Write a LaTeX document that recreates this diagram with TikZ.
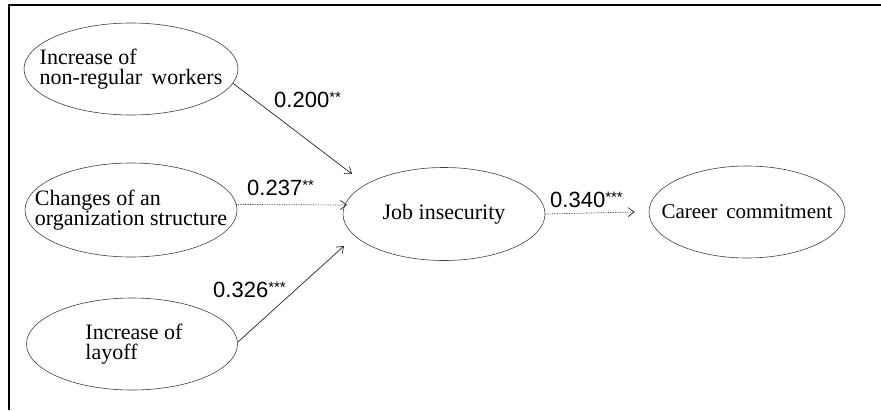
\documentclass[tikz,border=0pt]{standalone}
\usepackage{fontspec}
\setmainfont{Liberation Serif}
\newfontfamily\labfont{Liberation Sans}
\usetikzlibrary{shapes.geometric,arrows.meta}
\newcommand\sigstars[1]{\raisebox{4.5pt}{\fontsize{15}{15}\selectfont #1}}
\begin{document}
\begin{tikzpicture}[x=1pt,y=-1pt,
  var/.style={ellipse, draw=black!75, line width=0.6pt, inner sep=0pt},
  vartext/.style={inner sep=0pt, align=left, font=\fontsize{22}{20}\selectfont},
  pathline/.style={draw=black!85, line width=0.7pt, -{Straight Barb[length=6pt,width=9pt]}},
  dotpath/.style={pathline, densely dotted},
  coef/.style={anchor=base west, inner sep=0pt, font=\labfont\fontsize{22}{24}\selectfont}]
\useasboundingbox (0,0) rectangle (881,410);
\draw[line width=2pt] (8,5) -- (881,5);
\draw[line width=2pt] (9,4) -- (9,410);

% variables
\node[var, minimum width=214pt, minimum height=92pt] (e1) at (131,69) {};
\node[vartext] (e1t) at (e1.center) {Increase of\\ non-regular\, workers};
\node[var, minimum width=212pt, minimum height=94pt] (e2) at (131,210) {};
\node[vartext] (e2t) at (e2.center) {Changes of an\\organization structure};
\node[var, minimum width=211pt, minimum height=92pt] (e3) at (132,344) {};
\node[vartext] (e3t) at ([xshift=2pt]e3.center) {Increase of\\layoff};
\node[var, minimum width=202pt, minimum height=93pt] (job) at (444,214) {};
\node[vartext] (jobt) at (job.center) {Job insecurity};
\node[var, minimum width=196pt, minimum height=92pt] (car) at (747,212) {};
\node[vartext, font=\fontsize{21}{20}\selectfont] (cart) at (car.center) {Career\, commitment};

% arrow ends
\coordinate (t1) at (352,174);
\coordinate (t2) at (347,205);
\coordinate (t3) at (344,246);

\draw[pathline] (e1.-8) -- (t1);
\draw[dotpath] (e2.3) -- (t2);
\draw[pathline] (e3.1) -- (t3);
\draw[dotpath] (job.east) -- ([xshift=-14pt]car.west);

% coefficients
\node[coef] (c1) at (274,107) {0.200\sigstars{**}};
\node[coef] (c2) at (247,195) {0.237\sigstars{**}};
\node[coef] (c3) at (213,297) {0.326\sigstars{***}};
\node[coef] (c4) at (550,207) {0.340\sigstars{***}};
\end{tikzpicture}
\end{document}
